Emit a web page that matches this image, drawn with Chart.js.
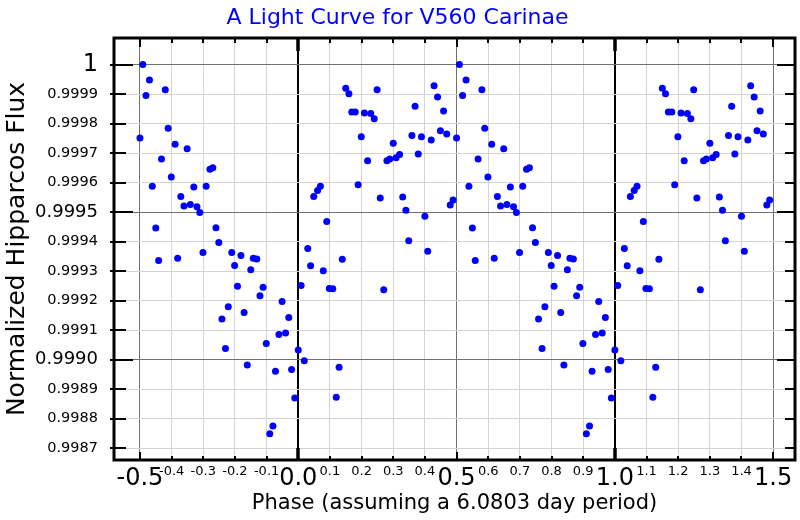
<!DOCTYPE html>
<html lang="en">
<head>
    <meta charset="UTF-8">
    <title>A Light Curve for V560 Carinae</title>
    <style>
        body { margin: 0; background: #fff; }
        #wrap { width: 800px; height: 520px; }
    </style>
</head>
<body>
    <div id="wrap"><canvas id="myChart" width="800" height="520"></canvas></div>

    <script src="https://cdn.jsdelivr.net/npm/chart.js"></script>
    <script>
        // one cycle of the folded light curve, phase -0.5 .. 0.5
        var phase = [
            -0.500, -0.491, -0.481, -0.470, -0.461, -0.450, -0.441, -0.432, -0.420, -0.411,
            -0.401, -0.389, -0.381, -0.371, -0.361, -0.351, -0.341, -0.330, -0.320, -0.311,
            -0.301, -0.291, -0.279, -0.270, -0.260, -0.251, -0.241, -0.230, -0.221, -0.210,
            -0.201, -0.192, -0.181, -0.171, -0.161, -0.150, -0.142, -0.131, -0.121, -0.111,
            -0.101, -0.090, -0.080, -0.072, -0.061, -0.051, -0.040, -0.030, -0.021, -0.011,
            0.000, 0.009, 0.019, 0.030, 0.039, 0.049, 0.061, 0.070, 0.079, 0.090,
            0.098, 0.109, 0.120, 0.129, 0.139, 0.150, 0.160, 0.169, 0.180, 0.189,
            0.199, 0.209, 0.219, 0.229, 0.240, 0.249, 0.259, 0.270, 0.280, 0.289,
            0.300, 0.309, 0.320, 0.330, 0.340, 0.349, 0.359, 0.369, 0.379, 0.389,
            0.400, 0.409, 0.420, 0.429, 0.440, 0.449, 0.459, 0.469, 0.480, 0.489
        ];
        var flux = [
            0.999751, 1.000000, 0.999895, 0.999948, 0.999588, 0.999446, 0.999336, 0.999680, 0.999915, 0.999784,
            0.999619, 0.999730, 0.999344, 0.999553, 0.999521, 0.999715, 0.999526, 0.999585, 0.999518, 0.999499,
            0.999363, 0.999588, 0.999645, 0.999650, 0.999447, 0.999397, 0.999138, 0.999038, 0.999179, 0.999363,
            0.999319, 0.999249, 0.999353, 0.999160, 0.998982, 0.999305, 0.999344, 0.999341, 0.999217, 0.999245,
            0.999055, 0.998749, 0.998775, 0.998961, 0.999085, 0.999197, 0.999090, 0.999143, 0.998967, 0.998870,
            0.999033, 0.999251, 0.998996, 0.999377, 0.999318, 0.999553, 0.999573, 0.999588, 0.999301, 0.999468,
            0.999241, 0.999240, 0.998873, 0.998974, 0.999340, 0.999920, 0.999901, 0.999839, 0.999839, 0.999593,
            0.999755, 0.999836, 0.999674, 0.999834, 0.999816, 0.999915, 0.999548, 0.999237, 0.999674, 0.999680,
            0.999733, 0.999684, 0.999695, 0.999551, 0.999506, 0.999403, 0.999760, 0.999859, 0.999697, 0.999755,
            0.999486, 0.999367, 0.999744, 0.999928, 0.999890, 0.999776, 0.999843, 0.999765, 0.999524, 0.999541
        ];

        var xTicks = [-0.5, -0.4, -0.3, -0.2, -0.1, 0.0, 0.1, 0.2, 0.3, 0.4, 0.5, 0.6, 0.7,
            0.8, 0.9, 1.0, 1.1, 1.2, 1.3, 1.4, 1.5];
        var xMajor = [-0.5, 0.5, 1.5];
        var xZero = [0.0, 1.0];
        var yTicks = [0.9987, 0.9988, 0.9989, 0.9990, 0.9991, 0.9992, 0.9993, 0.9994,
            0.9995, 0.9996, 0.9997, 0.9998, 0.9999, 1.0];
        var yMajor = [0.9990, 0.9995, 1.0];

        function inList(list, v) {
            for (var i = 0; i < list.length; i++) {
                if (Math.abs(list[i] - v) < 1e-7) return true;
            }
            return false;
        }
        function tickVal(c) {
            return (c && c.tick) ? c.tick.value : NaN;
        }

        // the curve is shown twice: phase and phase + 1
        var points = [];
        for (var i = 0; i < phase.length; i++) {
            points.push({ x: phase[i], y: flux[i] });
            points.push({ x: phase[i] + 1, y: flux[i] });
        }

        // frame and inward tick marks
        var frameTicks = {
            id: 'frameTicks',
            afterDraw: function (chart) {
                var c = chart.ctx, a = chart.chartArea;
                var sx = chart.scales.x, sy = chart.scales.y;
                c.save();
                c.strokeStyle = '#000';
                c.lineCap = 'butt';
                for (var i = 0; i < xTicks.length; i++) {
                    var px = Math.round(sx.getPixelForValue(xTicks[i]));
                    var len = 5, w = 2;
                    if (inList(xMajor, xTicks[i])) { len = 9; w = 2; }
                    if (inList(xZero, xTicks[i])) { len = 13; w = 3.5; }
                    c.lineWidth = w;
                    c.beginPath();
                    c.moveTo(px, a.top); c.lineTo(px, a.top + len);
                    c.moveTo(px, a.bottom); c.lineTo(px, a.bottom - len + 1);
                    c.stroke();
                }
                c.lineWidth = 2;
                for (var j = 0; j < yTicks.length; j++) {
                    var py = Math.round(sy.getPixelForValue(yTicks[j]));
                    var big = inList(yMajor, yTicks[j]);
                    c.beginPath();
                    c.moveTo(a.left - 4, py); c.lineTo(a.left + (big ? 19 : 12), py);
                    c.moveTo(a.right, py); c.lineTo(a.right - (big ? 18 : 10), py);
                    c.stroke();
                }
                c.lineWidth = 3;
                c.strokeRect(a.left, a.top, a.right - a.left, a.bottom - a.top);
                c.restore();
            }
        };

        Chart.defaults.font.family = 'DejaVu Sans';
        Chart.defaults.color = '#000';

        var ctx = document.getElementById('myChart').getContext('2d');
        new Chart(ctx, {
            type: 'scatter',
            data: {
                datasets: [{
                    label: 'V560 Car',
                    data: points,
                    backgroundColor: '#0000ff',
                    borderColor: '#0000ff',
                    pointRadius: 3.5,
                    pointBorderWidth: 0
                }]
            },
            options: {
                responsive: false,
                animation: false,
                layout: { padding: { left: 0, right: 5, top: 0, bottom: 0 } },
                plugins: {
                    legend: { display: false },
                    tooltip: { enabled: false },
                    title: {
                        display: true,
                        text: 'A Light Curve for V560 Carinae',
                        color: '#0000ff',
                        font: { size: 22, weight: 'normal' },
                        padding: { top: 5, bottom: 6.6 }
                    }
                },
                scales: {
                    x: {
                        type: 'linear',
                        min: -0.582,
                        max: 1.569,
                        afterBuildTicks: function (s) {
                            s.ticks = xTicks.map(function (v) { return { value: v }; });
                        },
                        afterFit: function (s) { s.height = 60; },
                        border: { display: false },
                        grid: {
                            drawTicks: false,
                            color: function (c) {
                                var v = tickVal(c);
                                if (inList(xZero, v)) return '#000';
                                if (inList(xMajor, v)) return '#707070';
                                return '#d4d4d4';
                            },
                            lineWidth: function (c) {
                                return inList(xZero, tickVal(c)) ? 2 : 1;
                            }
                        },
                        ticks: {
                            padding: 4,
                            maxRotation: 0,
                            autoSkip: false,
                            font: function (c) {
                                var v = tickVal(c);
                                var big = inList(xMajor, v) || inList(xZero, v);
                                return { size: big ? 24 : 13 };
                            },
                            callback: function (v) { return Number(v).toFixed(1); }
                        },
                        title: {
                            display: true,
                            text: 'Phase (assuming a 6.0803 day period)',
                            font: { size: 21 },
                            padding: { top: 0, bottom: 4 }
                        }
                    },
                    y: {
                        type: 'linear',
                        min: 0.99866,
                        max: 1.00009,
                        afterBuildTicks: function (s) {
                            s.ticks = yTicks.map(function (v) { return { value: v }; });
                        },
                        afterFit: function (s) { s.width = 114; },
                        border: { display: false },
                        grid: {
                            drawTicks: false,
                            color: function (c) {
                                return inList(yMajor, tickVal(c)) ? '#707070' : '#d4d4d4';
                            },
                            lineWidth: 1
                        },
                        ticks: {
                            padding: 16,
                            autoSkip: false,
                            font: function (c) {
                                var v = tickVal(c);
                                if (Math.abs(v - 1) < 1e-7) return { size: 24 };
                                return { size: inList(yMajor, v) ? 18 : 14.5 };
                            },
                            callback: function (v) {
                                return Math.abs(v - 1) < 1e-7 ? '1' : Number(v).toFixed(4);
                            }
                        },
                        title: {
                            display: true,
                            text: 'Normalized Hipparcos Flux',
                            font: { size: 25 },
                            padding: { top: 2, bottom: 0 }
                        }
                    }
                }
            },
            plugins: [frameTicks]
        });
    </script>
</body>
</html>
